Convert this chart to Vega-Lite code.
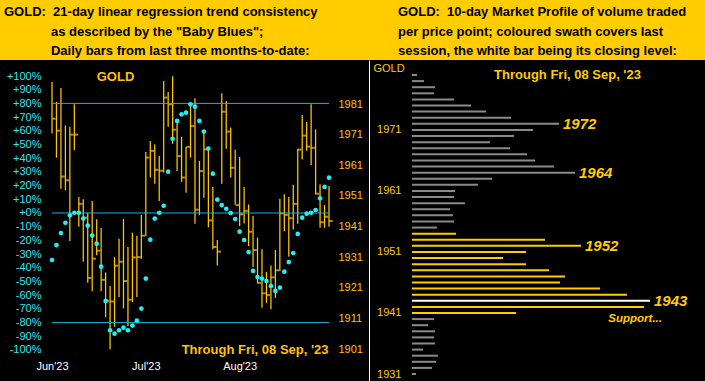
{
  "$schema": "https://vega.github.io/schema/vega-lite/v6.json",
  "background": "#FFCC00",
  "padding": {"top": 6, "left": 0, "right": 0, "bottom": 0},
  "spacing": 0,
  "config": {
    "view": {"fill": "black", "stroke": null},
    "font": "Liberation Sans",
    "title": {"font": "Liberation Sans", "fontSize": 13, "fontWeight": "bold", "color": "black", "anchor": "start", "frame": "group", "lineHeight": 19.5, "offset": 2},
    "axis": {"grid": false, "ticks": false, "tickSize": 0, "domain": false, "labelFont": "Liberation Sans", "titleFont": "Liberation Sans", "labelOverlap": false, "labelBound": false, "labelFlush": false}
  },
  "datasets": {
    "gold": [
      {"d": "2023-06-09", "h": 1988.2, "l": 1971.4, "c": 1976.2, "bb": -34.3},
      {"d": "2023-06-12", "h": 1981.7, "l": 1963.5, "c": 1972.3, "bb": -23.4},
      {"d": "2023-06-13", "h": 1986.2, "l": 1953.3, "c": 1957.3, "bb": -14.6},
      {"d": "2023-06-14", "h": 1974.0, "l": 1952.8, "c": 1956.1, "bb": -7.1},
      {"d": "2023-06-15", "h": 1973.6, "l": 1936.3, "c": 1971.0, "bb": -1.7},
      {"d": "2023-06-16", "h": 1980.9, "l": 1965.9, "c": 1971.0, "bb": 0.2},
      {"d": "2023-06-20", "h": 1950.6, "l": 1940.9, "c": 1948.4, "bb": 0.2},
      {"d": "2023-06-21", "h": 1949.9, "l": 1929.5, "c": 1943.9, "bb": -4.1},
      {"d": "2023-06-22", "h": 1945.5, "l": 1922.6, "c": 1924.2, "bb": -9.2},
      {"d": "2023-06-23", "h": 1949.3, "l": 1919.9, "c": 1930.5, "bb": -16.5},
      {"d": "2023-06-26", "h": 1943.4, "l": 1931.6, "c": 1933.1, "bb": -22.4},
      {"d": "2023-06-27", "h": 1940.5, "l": 1919.9, "c": 1923.6, "bb": -39.2},
      {"d": "2023-06-28", "h": 1926.0, "l": 1911.4, "c": 1916.7, "bb": -64.2},
      {"d": "2023-06-29", "h": 1921.6, "l": 1900.9, "c": 1916.5, "bb": -85.6},
      {"d": "2023-06-30", "h": 1931.0, "l": 1908.3, "c": 1928.2, "bb": -88.1},
      {"d": "2023-07-03", "h": 1937.0, "l": 1918.0, "c": 1929.5, "bb": -85.6},
      {"d": "2023-07-05", "h": 1943.5, "l": 1914.3, "c": 1923.2, "bb": -83.7},
      {"d": "2023-07-06", "h": 1934.3, "l": 1908.5, "c": 1917.1, "bb": -85.6},
      {"d": "2023-07-07", "h": 1939.0, "l": 1916.3, "c": 1930.9, "bb": -82.2},
      {"d": "2023-07-10", "h": 1938.0, "l": 1918.0, "c": 1931.0, "bb": -78.6},
      {"d": "2023-07-11", "h": 1944.8, "l": 1930.5, "c": 1938.0, "bb": -69.8},
      {"d": "2023-07-12", "h": 1965.3, "l": 1937.9, "c": 1963.5, "bb": -47.9},
      {"d": "2023-07-13", "h": 1968.9, "l": 1957.0, "c": 1965.7, "bb": -19.5},
      {"d": "2023-07-14", "h": 1967.9, "l": 1955.0, "c": 1959.5, "bb": -4.1},
      {"d": "2023-07-17", "h": 1964.0, "l": 1949.3, "c": 1959.2, "bb": 0.2},
      {"d": "2023-07-18", "h": 1988.5, "l": 1958.6, "c": 1983.1, "bb": 5.3},
      {"d": "2023-07-19", "h": 1984.9, "l": 1973.6, "c": 1980.9, "bb": 30.2},
      {"d": "2023-07-20", "h": 1990.1, "l": 1968.0, "c": 1972.6, "bb": 54.2},
      {"d": "2023-07-21", "h": 1976.0, "l": 1959.1, "c": 1964.0, "bb": 67.2},
      {"d": "2023-07-24", "h": 1970.2, "l": 1955.6, "c": 1957.0, "bb": 72.0},
      {"d": "2023-07-25", "h": 1967.0, "l": 1952.0, "c": 1967.0, "bb": 73.2},
      {"d": "2023-07-26", "h": 1980.9, "l": 1963.5, "c": 1973.8, "bb": 79.3},
      {"d": "2023-07-27", "h": 1982.9, "l": 1941.9, "c": 1946.5, "bb": 77.6},
      {"d": "2023-07-28", "h": 1962.4, "l": 1944.7, "c": 1959.1, "bb": 67.2},
      {"d": "2023-07-31", "h": 1971.6, "l": 1950.4, "c": 1966.2, "bb": 59.4},
      {"d": "2023-08-01", "h": 1966.2, "l": 1940.8, "c": 1943.0, "bb": 47.0},
      {"d": "2023-08-02", "h": 1953.9, "l": 1933.6, "c": 1934.3, "bb": 28.7},
      {"d": "2023-08-03", "h": 1936.6, "l": 1928.3, "c": 1932.8, "bb": 9.7},
      {"d": "2023-08-04", "h": 1984.5, "l": 1955.0, "c": 1978.5, "bb": 5.8},
      {"d": "2023-08-07", "h": 1982.0, "l": 1966.4, "c": 1972.0, "bb": 3.1},
      {"d": "2023-08-08", "h": 1973.3, "l": 1957.0, "c": 1960.2, "bb": 0.0},
      {"d": "2023-08-09", "h": 1966.1, "l": 1948.2, "c": 1948.0, "bb": -4.4},
      {"d": "2023-08-10", "h": 1963.7, "l": 1941.2, "c": 1945.0, "bb": -13.6},
      {"d": "2023-08-11", "h": 1953.9, "l": 1942.0, "c": 1946.1, "bb": -19.7},
      {"d": "2023-08-14", "h": 1948.2, "l": 1934.6, "c": 1939.3, "bb": -28.5},
      {"d": "2023-08-15", "h": 1944.4, "l": 1927.8, "c": 1933.3, "bb": -42.3},
      {"d": "2023-08-16", "h": 1937.4, "l": 1922.4, "c": 1922.6, "bb": -46.7},
      {"d": "2023-08-17", "h": 1933.6, "l": 1914.5, "c": 1919.2, "bb": -47.9},
      {"d": "2023-08-18", "h": 1926.2, "l": 1916.1, "c": 1918.6, "bb": -49.6},
      {"d": "2023-08-21", "h": 1928.3, "l": 1914.0, "c": 1924.4, "bb": -53.3},
      {"d": "2023-08-22", "h": 1933.3, "l": 1917.7, "c": 1926.7, "bb": -56.9},
      {"d": "2023-08-23", "h": 1950.1, "l": 1926.5, "c": 1945.3, "bb": -54.5},
      {"d": "2023-08-24", "h": 1951.5, "l": 1939.5, "c": 1944.8, "bb": -42.8},
      {"d": "2023-08-25", "h": 1950.6, "l": 1931.1, "c": 1943.7, "bb": -35.8},
      {"d": "2023-08-28", "h": 1954.6, "l": 1940.0, "c": 1948.4, "bb": -29.2},
      {"d": "2023-08-29", "h": 1966.4, "l": 1941.9, "c": 1966.1, "bb": -15.3},
      {"d": "2023-08-30", "h": 1977.4, "l": 1962.9, "c": 1970.7, "bb": -3.4},
      {"d": "2023-08-31", "h": 1975.1, "l": 1965.7, "c": 1967.1, "bb": -0.5},
      {"d": "2023-09-01", "h": 1980.9, "l": 1961.1, "c": 1966.7, "bb": 0.2},
      {"d": "2023-09-05", "h": 1972.7, "l": 1951.5, "c": 1951.7, "bb": 2.2},
      {"d": "2023-09-06", "h": 1954.8, "l": 1940.6, "c": 1942.4, "bb": 10.7},
      {"d": "2023-09-07", "h": 1948.0, "l": 1940.6, "c": 1944.2, "bb": 19.0},
      {"d": "2023-09-08", "h": 1954.2, "l": 1940.9, "c": 1942.8, "bb": 25.8}
    ],
    "profile": [
      {"p": 1980, "v": 5, "k": "prior"},
      {"p": 1979, "v": 12, "k": "prior"},
      {"p": 1978, "v": 23, "k": "prior"},
      {"p": 1977, "v": 22, "k": "prior"},
      {"p": 1976, "v": 42, "k": "prior"},
      {"p": 1975, "v": 59, "k": "prior"},
      {"p": 1974, "v": 74, "k": "prior"},
      {"p": 1973, "v": 99, "k": "prior"},
      {"p": 1972, "v": 147, "k": "prior", "peak": 1},
      {"p": 1971, "v": 121, "k": "prior"},
      {"p": 1970, "v": 102, "k": "prior"},
      {"p": 1969, "v": 78, "k": "prior"},
      {"p": 1968, "v": 98, "k": "prior"},
      {"p": 1967, "v": 115, "k": "prior"},
      {"p": 1966, "v": 123, "k": "prior"},
      {"p": 1965, "v": 142, "k": "prior"},
      {"p": 1964, "v": 163, "k": "prior", "peak": 1},
      {"p": 1963, "v": 80, "k": "prior"},
      {"p": 1962, "v": 66, "k": "prior"},
      {"p": 1961, "v": 43, "k": "prior"},
      {"p": 1960, "v": 42, "k": "prior"},
      {"p": 1959, "v": 53, "k": "prior"},
      {"p": 1958, "v": 38, "k": "prior"},
      {"p": 1957, "v": 41, "k": "prior"},
      {"p": 1956, "v": 42, "k": "prior"},
      {"p": 1955, "v": 25, "k": "prior"},
      {"p": 1954, "v": 44, "k": "last"},
      {"p": 1953, "v": 133, "k": "last"},
      {"p": 1952, "v": 169, "k": "last", "peak": 1},
      {"p": 1951, "v": 114, "k": "last"},
      {"p": 1950, "v": 91, "k": "last"},
      {"p": 1949, "v": 114, "k": "last"},
      {"p": 1948, "v": 137, "k": "last"},
      {"p": 1947, "v": 153, "k": "last"},
      {"p": 1946, "v": 148, "k": "last"},
      {"p": 1945, "v": 188, "k": "last"},
      {"p": 1944, "v": 215, "k": "last"},
      {"p": 1943, "v": 238, "k": "close", "peak": 1},
      {"p": 1942, "v": 232, "k": "last"},
      {"p": 1941, "v": 104, "k": "last"},
      {"p": 1940, "v": 22, "k": "prior"},
      {"p": 1939, "v": 16, "k": "prior"},
      {"p": 1938, "v": 23, "k": "prior"},
      {"p": 1937, "v": 22, "k": "prior"},
      {"p": 1936, "v": 23, "k": "prior"},
      {"p": 1935, "v": 11, "k": "prior"},
      {"p": 1934, "v": 26, "k": "prior"},
      {"p": 1933, "v": 24, "k": "prior"},
      {"p": 1932, "v": 20, "k": "prior"},
      {"p": 1931, "v": 4, "k": "prior"}
    ]
  },
  "hconcat": [
    {
      "width": 369,
      "height": 322,
      "title": {"text": ["GOLD:\u00a0\u00a021-day linear regression trend consistency", "\u200b\u00a0\u00a0\u00a0\u00a0\u00a0\u00a0\u00a0\u00a0\u00a0\u00a0\u00a0\u00a0\u00a0as described by the \"Baby Blues\";", "\u200b\u00a0\u00a0\u00a0\u00a0\u00a0\u00a0\u00a0\u00a0\u00a0\u00a0\u00a0\u00a0\u00a0Daily bars from last three months-to-date:"], "dx": 4},
      "data": {"name": "gold"},
      "layer": [
        {
          "layer": [
            {
              "mark": {"type": "rule", "color": "#FFC800", "strokeWidth": 1.25},
              "encoding": {
                "x": {"field": "d", "type": "ordinal", "scale": {"type": "point", "range": [52, 329], "padding": 0},
                  "axis": {"values": ["2023-06-09", "2023-07-12", "2023-08-10"], "labelExpr": "utcFormat(toDate(datum.value), \"%b'%y\")", "labelAngle": 0, "labelColor": "white", "labelFontSize": 11, "labelPadding": 0, "offset": -22, "labelOverlap": false,
                    "title": "GOLD", "titleColor": "#FFC200", "titleFontSize": 13, "titleFontWeight": "bold", "titleX": 115, "titleY": -284, "titleAlign": "center", "titleBaseline": "middle", "titleAngle": 0}},
                "y": {"field": "l", "type": "quantitative", "scale": {"domain": [1890.23, 1995.37], "nice": false, "zero": false},
                  "axis": {"orient": "right", "offset": -31, "values": [1901, 1911, 1921, 1931, 1941, 1951, 1961, 1971, 1981], "format": "d", "labelColor": "#FFC200", "labelFontSize": 11, "labelPadding": 0, "labelAlign": "left", "labelBaseline": "middle", "labelOverlap": false,
                    "title": "Through Fri, 08 Sep, '23", "titleColor": "#FFC200", "titleFontSize": 13, "titleFontWeight": "bold", "titleAngle": 0, "titleX": -10, "titleY": 289, "titleAlign": "right", "titleBaseline": "middle"}},
                "y2": {"field": "h"}
              }
            },
            {
              "mark": {"type": "tick", "color": "#FFC800", "thickness": 2, "size": 3.5, "xOffset": 2, "orient": "horizontal"},
              "encoding": {
                "x": {"field": "d", "type": "ordinal", "scale": {"type": "point", "range": [52, 329], "padding": 0}},
                "y": {"field": "c", "type": "quantitative",
                  "axis": {"orient": "right", "offset": -31, "values": [1901, 1911, 1921, 1931, 1941, 1951, 1961, 1971, 1981], "format": "d", "labelColor": "#FFC200", "labelFontSize": 11, "labelPadding": 0, "labelAlign": "left", "labelBaseline": "middle", "labelOverlap": false,
                    "title": "Through Fri, 08 Sep, '23", "titleColor": "#FFC200", "titleFontSize": 13, "titleFontWeight": "bold", "titleAngle": 0, "titleX": -10, "titleY": 289, "titleAlign": "right", "titleBaseline": "middle"}}
              }
            }
          ]
        },
        {
          "layer": [
            {
              "data": {"values": [{"lvl": 80}, {"lvl": 0}, {"lvl": -80}]},
              "mark": {"type": "rule", "color": "#14B4E6", "strokeWidth": 1},
              "encoding": {
                "x": {"datum": "2023-06-09", "type": "ordinal", "scale": {"type": "point", "range": [52, 329], "padding": 0}},
                "x2": {"datum": "2023-09-08"},
                "y": {"field": "lvl", "type": "quantitative",
                  "axis": {"orient": "left", "offset": -42, "values": [-100, -90, -80, -70, -60, -50, -40, -30, -20, -10, 0, 10, 20, 30, 40, 50, 60, 70, 80, 90, 100], "labelExpr": "(datum.value >= 0 ? '+' : '') + datum.value + '%'", "labelColor": "#2EE8F8", "labelFontSize": 11, "labelPadding": 1, "labelBaseline": "middle", "labelOverlap": false, "labelSeparation": 0, "title": null}}
              }
            },
            {
              "mark": {"type": "point", "filled": true, "color": "#22EEF5", "size": 22, "opacity": 1},
              "encoding": {
                "x": {"field": "d", "type": "ordinal", "scale": {"type": "point", "range": [52, 329], "padding": 0}},
                "y": {"field": "bb", "type": "quantitative", "scale": {"domain": [-123.36, 111.68], "nice": false, "zero": false},
                  "axis": {"orient": "left", "offset": -42, "values": [-100, -90, -80, -70, -60, -50, -40, -30, -20, -10, 0, 10, 20, 30, 40, 50, 60, 70, 80, 90, 100], "labelExpr": "(datum.value >= 0 ? '+' : '') + datum.value + '%'", "labelColor": "#2EE8F8", "labelFontSize": 11, "labelPadding": 1, "labelBaseline": "middle", "labelOverlap": false, "labelSeparation": 0, "title": null}}
              }
            }
          ]
        }
      ],
      "resolve": {"scale": {"y": "independent"}}
    },
    {
      "width": 336,
      "height": 322,
      "title": {"text": ["GOLD:\u00a0\u00a010-day Market Profile of volume traded", "per price point; coloured swath covers last", "session, the white bar being its closing level:"], "dx": 29},
      "data": {"name": "profile"},
      "encoding": {
        "y": {"field": "p", "type": "quantitative", "scale": {"domain": [1929.69, 1982.46], "nice": false, "zero": false},
          "axis": {"orient": "left", "values": [1931, 1941, 1951, 1961, 1971], "format": "d", "domain": true, "domainColor": "white", "domainWidth": 1, "labelColor": "#FFCC00", "labelFontSize": 11, "labelAlign": "right", "labelPadding": -32, "labelBaseline": "middle", "labelOverlap": false,
            "title": "GOLD", "titleColor": "#FFCC00", "titleFontSize": 11, "titleFontWeight": "normal", "titleAngle": 0, "titleX": 4, "titleY": 8, "titleAlign": "left", "titleBaseline": "middle"}},
        "x": {"field": "v", "type": "quantitative", "scale": {"domain": [-43, 293], "nice": false, "zero": false},
          "axis": {"orient": "bottom", "labels": false, "values": [], "title": "Through Fri, 08 Sep, '23", "titleColor": "#FFCC00", "titleFontSize": 13, "titleFontWeight": "bold", "titleX": 198, "titleY": -308, "titleAlign": "center", "titleBaseline": "middle"}}
      },
      "layer": [
        {
          "mark": {"type": "rule", "strokeWidth": 2},
          "encoding": {
            "x2": {"datum": 0},
            "color": {"field": "k", "type": "nominal", "scale": {"domain": ["prior", "last", "close"], "range": ["#8A8A8A", "#FFCC00", "#FFFFFF"]}, "legend": null}
          }
        },
        {
          "transform": [{"filter": "datum.peak == 1"}],
          "mark": {"type": "text", "align": "left", "baseline": "middle", "dx": 4, "font": "Liberation Sans", "fontSize": 15, "fontWeight": "bold", "fontStyle": "italic", "color": "#FFCC00"},
          "encoding": {"text": {"field": "p", "type": "quantitative", "format": "d"}}
        },
        {
          "transform": [{"filter": "datum.k == 'close'"}],
          "mark": {"type": "text", "align": "right", "baseline": "middle", "dx": 12, "dy": 18, "font": "Liberation Sans", "fontSize": 11.5, "fontWeight": "bold", "fontStyle": "italic", "color": "#FFCC00", "text": "Support..."},
          "encoding": {}
        }
      ]
    }
  ]
}
